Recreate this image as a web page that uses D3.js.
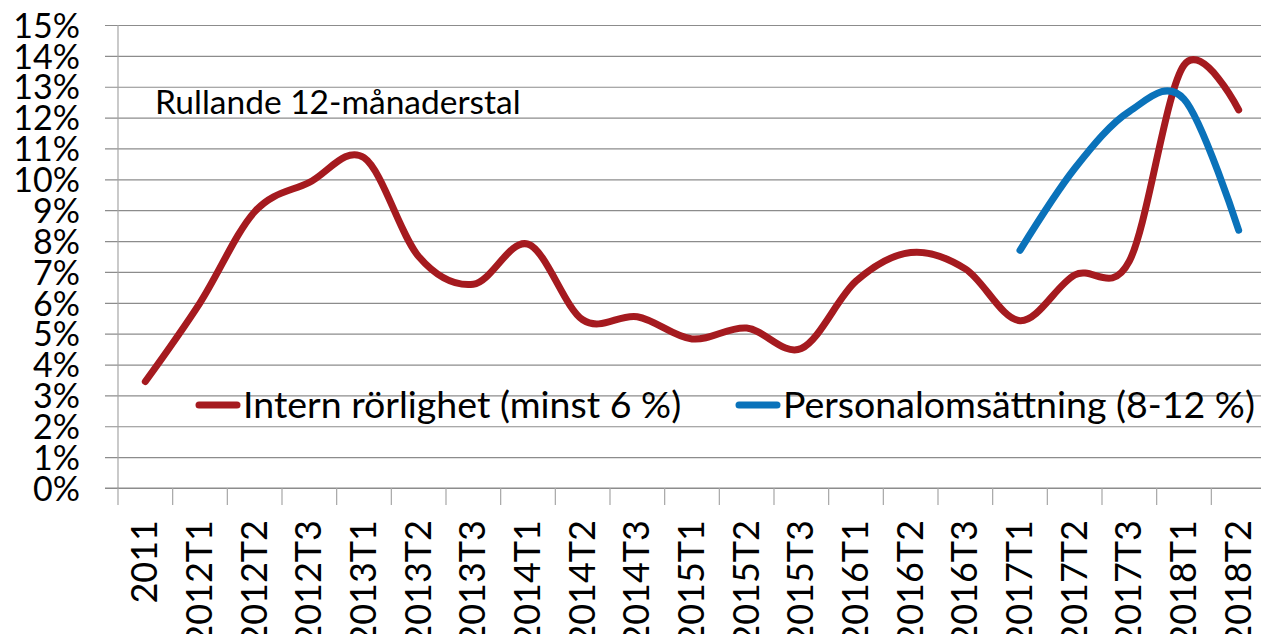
<!DOCTYPE html>
<html>
<head>
<meta charset="utf-8">
<script src="https://cdn.jsdelivr.net/npm/d3@7"></script>
<style>
  body { margin: 0; background: #fff; }
  text { font-family: Lato, "Noto Sans", sans-serif; fill: #000; }
</style>
</head>
<body>
<div id="chart"></div>
<script>
// categories along the x axis
const periods = ["2011", "2012T1", "2012T2", "2012T3", "2013T1", "2013T2", "2013T3",
  "2014T1", "2014T2", "2014T3", "2015T1", "2015T2", "2015T3", "2016T1", "2016T2",
  "2016T3", "2017T1", "2017T2", "2017T3", "2018T1", "2018T2"];

// intern rörlighet, percent
const internValues = [3.45, 6.0, 8.95, 9.9, 10.7, 7.5, 6.6, 7.9, 5.45, 5.55, 4.83,
  5.18, 4.52, 6.7, 7.63, 7.1, 5.42, 6.9, 7.35, 13.7, 12.25];

// personalomsättning, percent (only from 2017T1)
const turnoverPeriods = ["2017T1", "2017T2", "2017T3", "2018T1", "2018T2"];
const turnoverValues = [7.7, 10.35, 12.2, 12.6, 8.35];

const yTicks = d3.range(0, 16);

const seriesNames = ["Intern rörlighet (minst 6 %)", "Personalomsättning (8-12 %)"];
const colors = ["#A51A1F", "#0A72BA"];

const W = 1261, H = 634;
const margin = {top: 25, left: 118};
const plotRight = 1266, plotBottom = 488;

const svg = d3.select("#chart").append("svg")
  .attr("width", W)
  .attr("height", H);

const x = d3.scaleBand()
  .domain(periods)
  .range([margin.left, plotRight]);

const y = d3.scaleLinear()
  .domain([0, 15])
  .range([plotBottom, margin.top]);

// horizontal gridlines + y labels
const yAxis = svg.append("g")
  .attr("transform", `translate(${margin.left},0)`)
  .call(d3.axisLeft(y).tickValues(yTicks).tickFormat(d => d + "%")
    .tickSize(-(plotRight - margin.left)).tickPadding(38))
yAxis.select(".domain").remove();
yAxis.selectAll(".tick line")
  .attr("x1", -13)
  .attr("stroke", "#8c8c8c")
  .attr("stroke-width", 1.2);
yAxis.selectAll(".tick text")
  .style("font-size", "34px")
  .attr("dy", "0.36em");

// y axis line
svg.append("line")
  .attr("x1", margin.left).attr("x2", margin.left)
  .attr("y1", y(15)).attr("y2", y(0))
  .attr("stroke", "#a6a6a6").attr("stroke-width", 1.2);

// x axis with tick marks at band borders
const xAxis = svg.append("g")
  .attr("transform", `translate(0,${y(0)})`);
xAxis.append("line")
  .attr("x1", 105).attr("x2", plotRight)
  .attr("stroke", "#8c8c8c").attr("stroke-width", 1.2);
xAxis.selectAll(".xtick")
  .data(periods)
  .join("line")
  .attr("class", "xtick")
  .attr("x1", d => x(d)).attr("x2", d => x(d))
  .attr("y1", 0).attr("y2", 17)
  .attr("stroke", "#a6a6a6").attr("stroke-width", 1.2);
xAxis.selectAll(".xlabel")
  .data(periods)
  .join("text")
  .attr("class", "xlabel")
  .attr("transform", d => `translate(${x(d) + x.bandwidth() / 2 + 12},32) rotate(-90)`)
  .attr("text-anchor", "end")
  .style("font-size", "36px")
  .text(d => d);

// lines
const line = d3.line()
  .x(d => x(d.p) + x.bandwidth() / 2)
  .y(d => y(d.v))
  .curve(d3.curveCatmullRom.alpha(0));

const internData = periods.map((p, i) => ({p: p, v: internValues[i]}));
const turnoverData = turnoverPeriods.map((p, i) => ({p: p, v: turnoverValues[i]}));

svg.append("path")
  .datum(internData)
  .attr("d", line)
  .attr("fill", "none")
  .attr("stroke", colors[0])
  .attr("stroke-width", 7)
  .attr("stroke-linecap", "round")
  .attr("stroke-linejoin", "round");

svg.append("path")
  .datum(turnoverData)
  .attr("d", line)
  .attr("fill", "none")
  .attr("stroke", colors[1])
  .attr("stroke-width", 7)
  .attr("stroke-linecap", "round")
  .attr("stroke-linejoin", "round");

// annotation
svg.append("text")
  .attr("x", 155)
  .attr("y", 114)
  .style("font-size", "33.5px")
  .text("Rullande 12-månaderstal");

// legend
const legendX = [199, 739];
const legend = svg.append("g");
seriesNames.forEach((name, i) => {
  legend.append("line")
    .attr("x1", legendX[i]).attr("x2", legendX[i] + 38)
    .attr("y1", 405).attr("y2", 405)
    .attr("stroke", colors[i])
    .attr("stroke-width", 7)
    .attr("stroke-linecap", "round");
  legend.append("text")
    .attr("x", legendX[i] + 44)
    .attr("y", 418)
    .style("font-size", "37.5px")
    .text(name);
});
</script>
</body>
</html>
